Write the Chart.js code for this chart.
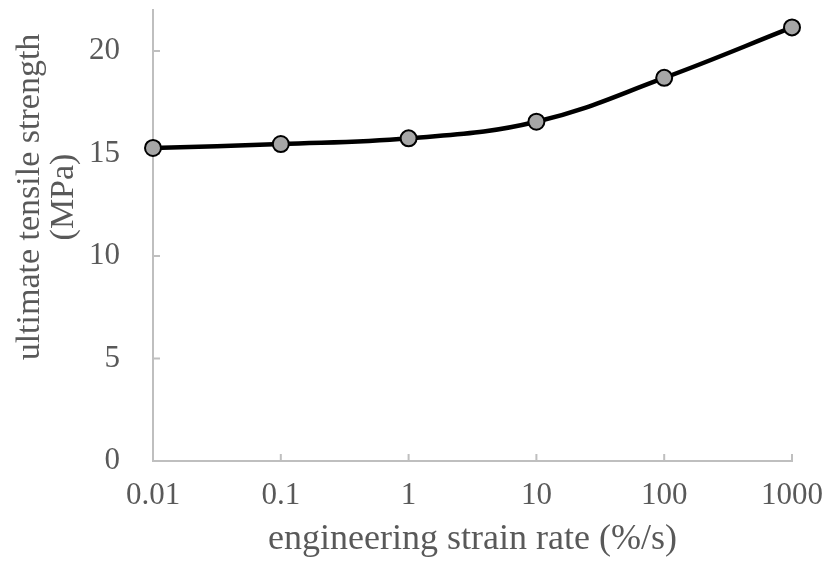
<!DOCTYPE html>
<html>
<head>
<meta charset="utf-8">
<script src="https://cdn.jsdelivr.net/npm/chart.js@4/dist/chart.umd.min.js"></script>
<style>
  body { margin: 0; background: #fff; }
  canvas { display: block; }
</style>
</head>
<body>
<canvas id="myChart" width="827" height="561"></canvas>
<script>
// strain rate (%/s) and ultimate tensile strength (MPa)
const strainRates = [0.01, 0.1, 1, 10, 100, 1000];
const strengths = [15.27, 15.46, 15.74, 16.55, 18.69, 21.15];
const xTicks = [0.01, 0.1, 1, 10, 100, 1000];
const yTicks = [0, 5, 10, 15, 20];

const textColor = '#595959';
const axisColor = '#bfbfbf';
const serif = '"Liberation Serif", "Times New Roman", serif';

// small inward tick marks like the excel original
const tickMarks = {
  id: 'tickMarks',
  beforeDatasetsDraw(chart) {
    const ctx = chart.ctx;
    const xs = chart.scales.x, ys = chart.scales.y;
    ctx.save();
    ctx.strokeStyle = axisColor;
    ctx.lineWidth = 2;
    ctx.beginPath();
    xs.ticks.forEach((t, i) => {
      if (i === 0) return;
      const px = xs.getPixelForValue(t.value);
      ctx.moveTo(px, ys.bottom);
      ctx.lineTo(px, ys.bottom - 7);
    });
    ys.ticks.forEach((t, i) => {
      if (i === 0) return;
      const py = ys.getPixelForValue(t.value);
      ctx.moveTo(xs.left, py);
      ctx.lineTo(xs.left + 7, py);
    });
    ctx.stroke();
    ctx.restore();
  }
};

// y title sits above centre in the original, so draw it by hand
const yTitle = {
  id: 'yTitle',
  afterDraw(chart) {
    const ctx = chart.ctx;
    ctx.save();
    ctx.fillStyle = textColor;
    ctx.font = '34px ' + serif;
    ctx.textAlign = 'center';
    ctx.textBaseline = 'middle';
    ctx.translate(30, 197);
    ctx.rotate(-Math.PI / 2);
    ctx.fillText('ultimate tensile strength', 0, 0);
    ctx.fillText('(MPa)', 0, 34);
    ctx.restore();
  }
};

new Chart(document.getElementById('myChart').getContext('2d'), {
  type: 'line',
  data: {
    datasets: [{
      data: strainRates.map((x, i) => ({ x: x, y: strengths[i] })),
      borderColor: '#000',
      borderWidth: 4.5,
      tension: 0.4,
      pointRadius: 8,
      pointBackgroundColor: '#a6a6a6',
      pointBorderColor: '#000',
      pointBorderWidth: 2,
      clip: false
    }]
  },
  options: {
    responsive: false,
    animation: false,
    layout: { padding: { top: 8, right: 35, left: 0, bottom: 0 } },
    plugins: { legend: { display: false }, tooltip: { enabled: false } },
    scales: {
      x: {
        type: 'logarithmic',
        min: 0.01,
        max: 1000,
        afterBuildTicks: (s) => { s.ticks = xTicks.map(v => ({ value: v })); },
        afterFit: (s) => { s.height = 100; s.paddingLeft = 0; s.paddingRight = 0; },
        grid: { display: false },
        border: { display: true, color: axisColor, width: 2 },
        ticks: {
          color: textColor,
          font: { family: serif, size: 31 },
          padding: 8,
          maxRotation: 0,
          autoSkip: false,
          callback: (v) => String(v)
        },
        title: {
          display: true,
          text: 'engineering strain rate (%/s)',
          color: textColor,
          font: { family: serif, size: 36 },
          padding: { top: 0, bottom: 0 }
        }
      },
      y: {
        min: 0,
        max: 22,
        afterBuildTicks: (s) => { s.ticks = yTicks.map(v => ({ value: v })); },
        afterFit: (s) => { s.width = 153; s.paddingTop = 0; s.paddingBottom = 0; },
        grid: { display: false },
        border: { display: true, color: axisColor, width: 2 },
        ticks: {
          color: textColor,
          font: { family: serif, size: 31 },
          padding: 25,
          callback: (v) => String(v)
        }
      }
    }
  },
  plugins: [tickMarks, yTitle]
});
</script>
</body>
</html>
